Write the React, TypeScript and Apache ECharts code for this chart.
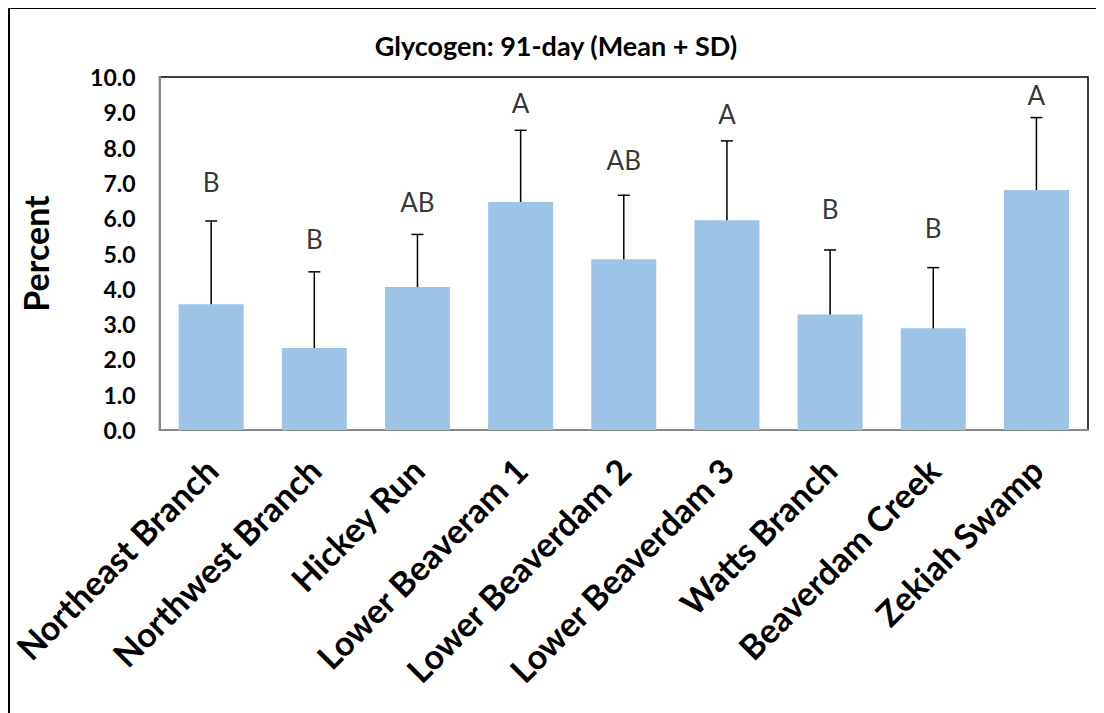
import React, { useEffect, useRef } from "react";
import * as echarts from "echarts";

const categories = [
  "Northeast Branch",
  "Northwest Branch",
  "Hickey Run",
  "Lower Beaveram 1",
  "Lower Beaverdam 2",
  "Lower Beaverdam 3",
  "Watts Branch",
  "Beaverdam Creek",
  "Zekiah Swamp",
];
const means = [3.56, 2.32, 4.05, 6.46, 4.84, 5.94, 3.27, 2.88, 6.8];
const sds = [2.36, 2.16, 1.49, 2.03, 1.81, 2.25, 1.83, 1.72, 2.05];
const letters = ["B", "B", "AB", "A", "AB", "A", "B", "B", "A"];
const letterY = [7.03, 5.41, 6.45, 9.26, 7.64, 8.94, 6.26, 5.72, 9.48];

const FONT = "Lato";

export default function App() {
  const ref = useRef<HTMLDivElement>(null);
  useEffect(() => {
    if (!ref.current) return;
    const chart = echarts.init(ref.current, null, { renderer: "svg" });
    const errData = means.map((m, i) => [i, m, m + sds[i]]);
    const option: any = {
      animation: false,
      backgroundColor: "#fff",
      title: {
        text: "Glycogen: 91-day (Mean + SD)",
        left: "center",
        top: 24,
        padding: 0,
        textStyle: { fontFamily: FONT, fontWeight: "bold", fontSize: 27, color: "#000" },
      },
      graphic: [
        { type: "line", shape: { x1: 1, y1: 0, x2: 1, y2: 705 }, style: { stroke: "#000", lineWidth: 2 } },
        { type: "line", shape: { x1: 0, y1: 0, x2: 1096, y2: 0 }, style: { stroke: "#000", lineWidth: 2 } },
      ],
      grid: {
        left: 149,
        top: 69,
        right: 16,
        bottom: 283,
        show: true,
        borderColor: "#000",
        borderWidth: 1.5,
        backgroundColor: "transparent",
      },
      xAxis: {
        type: "category",
        data: categories,
        axisLine: { lineStyle: { color: "#898989", width: 2 } },
        axisTick: { show: false },
        axisLabel: {
          rotate: 45,
          interval: 0,
          margin: 34,
          fontFamily: FONT,
          fontWeight: "bold",
          fontSize: 34,
          color: "#000",
        },
      },
      yAxis: {
        type: "value",
        min: 0,
        max: 10,
        interval: 1,
        name: "Percent",
        nameLocation: "middle",
        nameGap: 107,
        nameTextStyle: { fontFamily: FONT, fontWeight: "bold", fontSize: 34, color: "#000" },
        axisLine: { show: true, lineStyle: { color: "#898989", width: 2 } },
        axisTick: { show: false },
        splitLine: { show: false },
        axisLabel: {
          margin: 24,
          fontFamily: FONT,
          fontWeight: "bold",
          fontSize: 23,
          color: "#000",
          formatter: (v: number) => v.toFixed(1),
        },
      },
      series: [
        {
          type: "bar",
          data: means,
          barWidth: "63%",
          itemStyle: { color: "#9DC3E6" },
          z: 2,
        },
        {
          type: "custom",
          data: errData,
          z: 3,
          renderItem: (params: any, api: any) => {
            const x = api.value(0);
            const lo = api.coord([x, api.value(1)]);
            const hi = api.coord([x, api.value(2)]);
            const cap = 6;
            return {
              type: "group",
              children: [
                { type: "line", shape: { x1: lo[0], y1: lo[1], x2: hi[0], y2: hi[1] }, style: { stroke: "#000", lineWidth: 1.5 } },
                { type: "line", shape: { x1: hi[0] - cap, y1: hi[1], x2: hi[0] + cap, y2: hi[1] }, style: { stroke: "#000", lineWidth: 1.5 } },
              ],
            };
          },
        },
        {
          type: "scatter",
          data: letterY.map((y, i) => [i, y]),
          symbolSize: 0,
          z: 4,
          label: {
            show: true,
            position: "inside",
            formatter: (p: any) => letters[p.dataIndex],
            fontFamily: FONT,
            fontSize: 26,
            color: "#000",
            textBorderWidth: 0,
          },
        },
      ],
    };
    chart.setOption(option);
    return () => chart.dispose();
  }, []);
  return <div ref={ref} style={{ width: 1096, height: 705 }} />;
}
